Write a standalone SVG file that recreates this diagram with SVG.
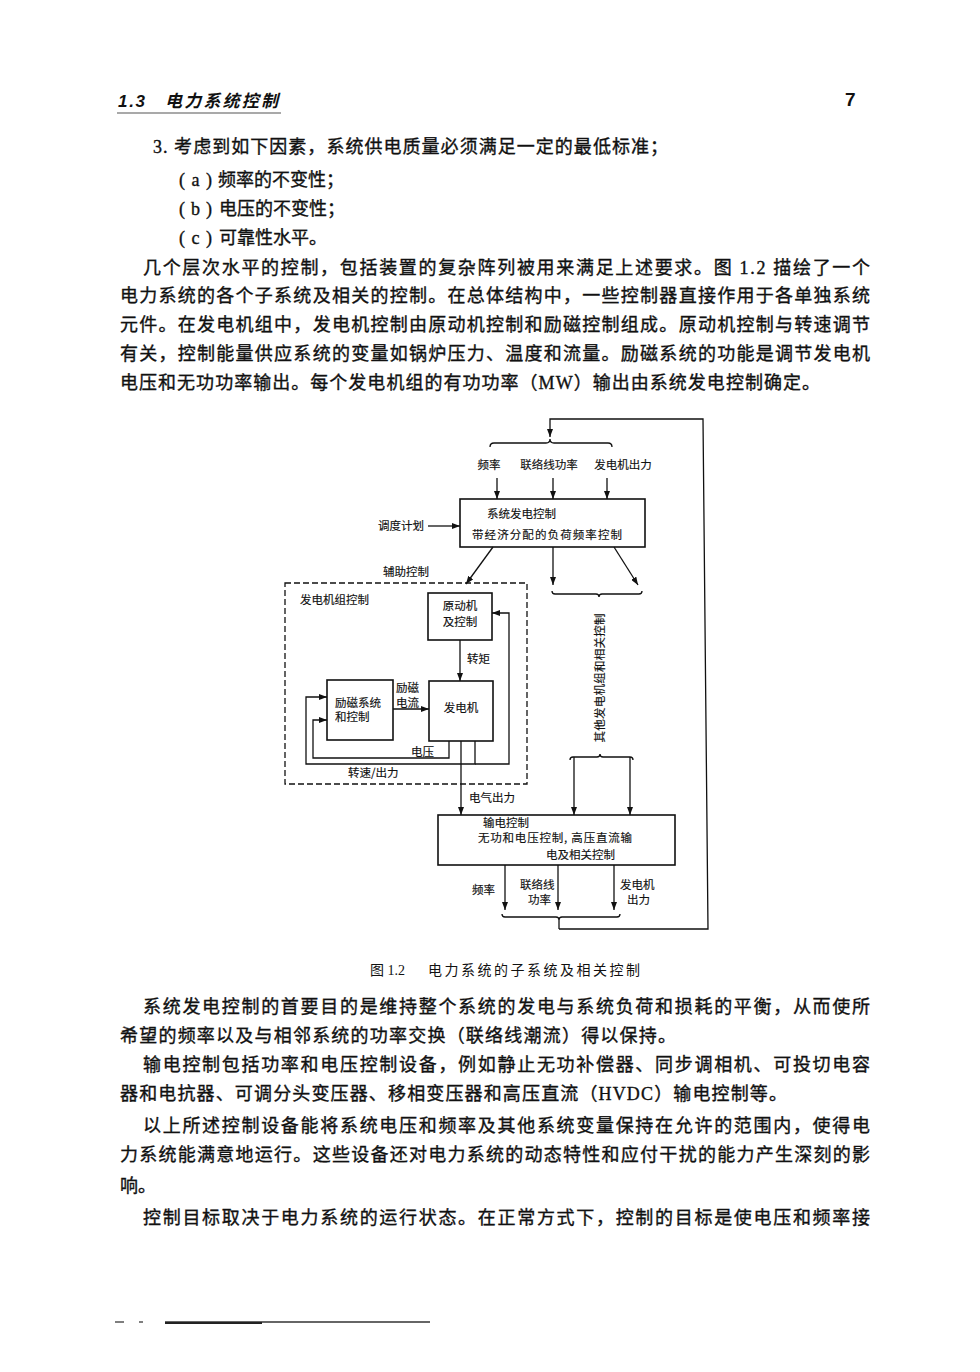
<svg xmlns="http://www.w3.org/2000/svg" width="980" height="1372" viewBox="0 0 980 1372">
<style>
.body{font-family:"Liberation Serif","Noto Sans CJK SC",serif;font-size:18px;fill:#111;stroke:#111;stroke-width:0.35;}
.hd{font-family:"Liberation Sans","Noto Sans CJK SC",sans-serif;font-style:italic;font-weight:bold;fill:#111;}
.cap{font-family:"Liberation Serif","Noto Sans CJK SC",serif;font-size:14px;fill:#111;}
.lb{font-family:"Noto Sans CJK SC",sans-serif;font-size:11.5px;fill:#111;stroke:#111;stroke-width:0.15;}
.box{fill:none;stroke:#111;stroke-width:1.6;}
.ln{fill:none;stroke:#111;stroke-width:1.3;}
.ar{fill:none;stroke:#111;stroke-width:1.3;marker-end:url(#ah);}
</style>
<defs>
<marker id="ah" viewBox="0 0 8 6" refX="8" refY="3" markerWidth="8" markerHeight="6" markerUnits="userSpaceOnUse" orient="auto"><path d="M0,0 L8,3 L0,6 z" fill="#111"/></marker>
</defs>
<rect width="980" height="1372" fill="#fff"/>

<g id="page-text">
<text class="hd" x="118" y="107" font-size="17" textLength="27" lengthAdjust="spacing">1.3</text>
<text class="hd" x="165" y="107" font-size="17" textLength="113" lengthAdjust="spacing">电力系统控制</text>
<line x1="117" y1="113" x2="281" y2="113" stroke="#555" stroke-width="1.2"/>
<text x="845" y="106" font-family="Liberation Sans, sans-serif" font-size="19" font-weight="bold" fill="#111">7</text>

<text class="body" x="153" y="153" textLength="515" lengthAdjust="spacing">3. 考虑到如下因素，系统供电质量必须满足一定的最低标准；</text>
<text class="body" x="179" y="186" textLength="33" lengthAdjust="spacing">(a)</text>
<text class="body" x="218" y="186">频率的不变性；</text>
<text class="body" x="179" y="215" textLength="33" lengthAdjust="spacing">(b)</text>
<text class="body" x="219" y="215">电压的不变性；</text>
<text class="body" x="179" y="244" textLength="33" lengthAdjust="spacing">(c)</text>
<text class="body" x="219" y="244">可靠性水平。</text>
<text class="body" x="143" y="274" textLength="727" lengthAdjust="spacing">几个层次水平的控制，包括装置的复杂阵列被用来满足上述要求。图 1.2 描绘了一个</text>
<text class="body" x="120" y="302" textLength="750" lengthAdjust="spacing">电力系统的各个子系统及相关的控制。在总体结构中，一些控制器直接作用于各单独系统</text>
<text class="body" x="120" y="331" textLength="750" lengthAdjust="spacing">元件。在发电机组中，发电机控制由原动机控制和励磁控制组成。原动机控制与转速调节</text>
<text class="body" x="120" y="360" textLength="750" lengthAdjust="spacing">有关，控制能量供应系统的变量如锅炉压力、温度和流量。励磁系统的功能是调节发电机</text>
<text class="body" x="120" y="389" textLength="700" lengthAdjust="spacing">电压和无功功率输出。每个发电机组的有功功率（MW）输出由系统发电控制确定。</text>

<text class="cap" x="370" y="975">图 1.2</text>
<text class="cap" x="428" y="975" textLength="212" lengthAdjust="spacing">电力系统的子系统及相关控制</text>

<text class="body" x="143" y="1013" textLength="727" lengthAdjust="spacing">系统发电控制的首要目的是维持整个系统的发电与系统负荷和损耗的平衡，从而使所</text>
<text class="body" x="120" y="1042" textLength="556" lengthAdjust="spacing">希望的频率以及与相邻系统的功率交换（联络线潮流）得以保持。</text>
<text class="body" x="143" y="1071" textLength="727" lengthAdjust="spacing">输电控制包括功率和电压控制设备，例如静止无功补偿器、同步调相机、可投切电容</text>
<text class="body" x="120" y="1100" textLength="667" lengthAdjust="spacing">器和电抗器、可调分头变压器、移相变压器和高压直流（HVDC）输电控制等。</text>
<text class="body" x="143" y="1132" textLength="727" lengthAdjust="spacing">以上所述控制设备能将系统电压和频率及其他系统变量保持在允许的范围内，使得电</text>
<text class="body" x="120" y="1161" textLength="750" lengthAdjust="spacing">力系统能满意地运行。这些设备还对电力系统的动态特性和应付干扰的能力产生深刻的影</text>
<text class="body" x="120" y="1192">响。</text>
<text class="body" x="143" y="1224" textLength="727" lengthAdjust="spacing">控制目标取决于电力系统的运行状态。在正常方式下，控制的目标是使电压和频率接</text>

<line x1="165" y1="1322" x2="430" y2="1322" stroke="#333" stroke-width="1.4"/>
<line x1="165" y1="1323" x2="262" y2="1323" stroke="#222" stroke-width="2"/>
<line x1="115" y1="1322" x2="124" y2="1322" stroke="#555" stroke-width="1.5"/>
<line x1="139" y1="1322" x2="143" y2="1322" stroke="#555" stroke-width="1.5"/>
</g>

<g id="connectors">
<polyline class="ar" points="559,929 708,929 703,419 550,419 550,437"/>
<path class="ln" d="M490,447 Q490,443 494,443 L546,443 Q550,443 550,439 Q550,443 554,443 L608,443 Q612,443 612,447"/>
<line class="ar" x1="497" y1="478" x2="497" y2="499"/>
<line class="ar" x1="553" y1="478" x2="553" y2="499"/>
<line class="ar" x1="607" y1="478" x2="607" y2="499"/>
<line class="ar" x1="428" y1="526" x2="460" y2="526"/>
<line class="ar" x1="493" y1="547" x2="466" y2="584"/>
<line class="ar" x1="553" y1="547" x2="553" y2="585"/>
<line class="ar" x1="614" y1="547" x2="638" y2="585"/>
<path class="ln" d="M552,591 Q552,594 555,594 L596,594 Q599,594 599,597 Q599,594 602,594 L639,594 Q642,594 642,591"/>
<path class="ln" d="M570,760 Q570,757 573,757 L597,757 Q600,757 600,754 Q600,757 603,757 L630,757 Q633,757 633,760"/>
<line class="ar" x1="574" y1="757" x2="574" y2="815"/>
<line class="ar" x1="630" y1="757" x2="630" y2="815"/>
<line class="ar" x1="460" y1="640" x2="460" y2="681"/>
<line class="ar" x1="393" y1="709" x2="429" y2="709"/>
<polyline class="ar" points="449,741 449,758 313,758 313,720 327,720"/>
<polyline class="ar" points="475,741 475,764 306,764 306,697 327,697"/>
<polyline class="ar" points="475,764 509,764 509,613 492,613"/>
<line class="ar" x1="461" y1="741" x2="461" y2="815"/>
<line class="ar" x1="505" y1="865" x2="505" y2="910"/>
<line class="ar" x1="558" y1="865" x2="558" y2="910"/>
<line class="ar" x1="614" y1="865" x2="614" y2="910"/>
<path class="ln" d="M502,914 Q502,917 505,917 L556,917 Q559,917 559,920 Q559,917 562,917 L617,917 Q620,917 620,914 M559,920 L559,929"/>
</g>

<g id="labels">
<text class="lb" x="489" y="469" text-anchor="middle">频率</text>
<text class="lb" x="549" y="469" text-anchor="middle">联络线功率</text>
<text class="lb" x="623" y="469" text-anchor="middle">发电机出力</text>
<text class="lb" x="424" y="530" text-anchor="end">调度计划</text>
<text class="lb" x="383" y="576">辅助控制</text>
<text class="lb" x="467" y="663">转矩</text>
<text class="lb" x="396" y="692">励磁</text>
<text class="lb" x="396" y="707">电流</text>
<text class="lb" x="411" y="756">电压</text>
<text class="lb" x="348" y="777">转速/出力</text>
<text class="lb" x="469" y="802">电气出力</text>
<text class="lb" x="472" y="894">频率</text>
<text class="lb" x="520" y="889">联络线</text>
<text class="lb" x="528" y="904">功率</text>
<text class="lb" x="620" y="889">发电机</text>
<text class="lb" x="627" y="904">出力</text>
<text class="lb" transform="translate(604,678) rotate(-90)" text-anchor="middle" textLength="129" lengthAdjust="spacing">其他发电机组和相关控制</text>
</g>

<g id="system-gen-control">
<rect class="box" x="460" y="499" width="185" height="48"/>
<text class="lb" x="487" y="518">系统发电控制</text>
<text class="lb" x="472" y="539" textLength="150" lengthAdjust="spacing">带经济分配的负荷频率控制</text>
</g>

<g id="gen-unit-control">
<rect x="285" y="583" width="242" height="201" fill="none" stroke="#111" stroke-width="1.3" stroke-dasharray="6,3"/>
<text class="lb" x="300" y="604">发电机组控制</text>
</g>

<g id="prime-mover">
<rect class="box" x="428" y="593" width="64" height="47"/>
<text class="lb" x="460" y="610" text-anchor="middle">原动机</text>
<text class="lb" x="460" y="626" text-anchor="middle">及控制</text>
</g>

<g id="generator">
<rect class="box" x="429" y="681" width="64" height="60"/>
<text class="lb" x="461" y="712" text-anchor="middle">发电机</text>
</g>

<g id="excitation">
<rect class="box" x="327" y="680" width="66" height="60"/>
<text class="lb" x="335" y="707">励磁系统</text>
<text class="lb" x="335" y="721">和控制</text>
</g>

<g id="transmission-control">
<rect class="box" x="438" y="815" width="237" height="50"/>
<text class="lb" x="483" y="827">输电控制</text>
<text class="lb" x="478" y="842" textLength="154" lengthAdjust="spacing">无功和电压控制, 高压直流输</text>
<text class="lb" x="546" y="859">电及相关控制</text>
</g>
</svg>
